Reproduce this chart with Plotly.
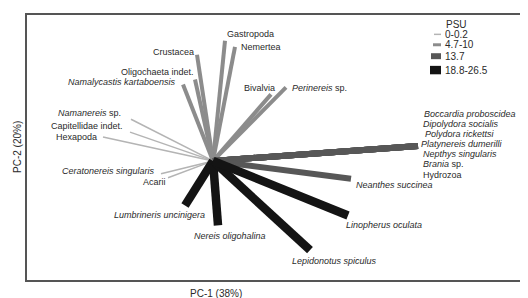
import plotly.graph_objects as go

# ---------------- data ----------------
species = [
    "Namanereis sp.", "Capitellidae indet.", "Hexapoda", "Ceratonereis singularis", "Acarii",
    "Gastropoda", "Nemertea", "Crustacea", "Oligochaeta indet.", "Namalycastis kartaboensis",
    "Bivalvia", "Perinereis sp.",
    "Boccardia proboscidea", "Dipolydora socialis", "Polydora rickettsi", "Platynereis dumerilli",
    "Nepthys singularis", "Brania sp.", "Hydrozoa", "Neanthes succinea",
    "Lumbrineris uncinigera", "Nereis oligohalina", "Lepidonotus spiculus", "Linopherus oculata",
]
labels = [
    "<i>Namanereis</i> sp.", "Capitellidae indet.", "Hexapoda", "<i>Ceratonereis singularis</i>", "Acarii",
    "Gastropoda", "Nemertea", "Crustacea", "Oligochaeta indet.", "<i>Namalycastis kartaboensis</i>",
    "Bivalvia", "<i>Perinereis</i> sp.",
    "<i>Boccardia proboscidea</i>", "<i>Dipolydora socialis</i>", "<i>Polydora rickettsi</i>",
    "<i>Platynereis dumerilli</i>", "<i>Nepthys singularis</i>", "<i>Brania</i> sp.", "Hydrozoa",
    "<i>Neanthes succinea</i>",
    "<i>Lumbrineris uncinigera</i>", "<i>Nereis oligohalina</i>", "<i>Lepidonotus spiculus</i>",
    "<i>Linopherus oculata</i>",
]
pc1 = [
    -0.41, -0.415, -0.55, -0.26, -0.225,
    0.06, 0.11, -0.08, -0.09, -0.15,
    0.29, 0.365,
    1.025, 1.025, 1.025, 1.025, 1.025, 1.025, 1.025, 0.69,
    -0.14, 0.025, 0.485, 0.675,
]
pc2 = [
    0.21, 0.145, 0.12, -0.065, -0.085,
    0.605, 0.575, 0.535, 0.41, 0.385,
    0.335, 0.37,
    0.075, 0.075, 0.075, 0.075, 0.075, 0.075, 0.075, -0.09,
    -0.225, -0.325, -0.45, -0.275,
]
psu = [
    "0-0.2", "0-0.2", "0-0.2", "0-0.2", "0-0.2",
    "4.7-10", "4.7-10", "4.7-10", "4.7-10", "4.7-10", "4.7-10", "4.7-10",
    "13.7", "13.7", "13.7", "13.7", "13.7", "13.7", "13.7", "13.7",
    "18.8-26.5", "18.8-26.5", "18.8-26.5", "18.8-26.5",
]
psu_groups = ["0-0.2", "4.7-10", "13.7", "18.8-26.5"]

# ---------------- styles ----------------
group_color = {"0-0.2": "#b4b4b4", "4.7-10": "#8c8c8c", "13.7": "#575757", "18.8-26.5": "#141414"}
group_width = {"0-0.2": 1.5, "4.7-10": 4, "13.7": 6, "18.8-26.5": 8.5}
# label placement relative to vector tip: (xanchor, dx px, dy px down)
label_pos = {
    "Namanereis sp.": ("right", -9, -6.5),
    "Capitellidae indet.": ("right", -6, -6),
    "Hexapoda": ("right", -5, -0.5),
    "Ceratonereis singularis": ("right", -5, -3),
    "Acarii": ("right", -1, 4),
    "Gastropoda": ("left", 1, -7),
    "Nemertea": ("left", 5, 0),
    "Crustacea": ("right", -2, -3),
    "Oligochaeta indet.": ("right", 0, -8),
    "Namalycastis kartaboensis": ("right", -6, -2),
    "Bivalvia": ("right", 5, -6),
    "Perinereis sp.": ("left", 5, 1),
    "Boccardia proboscidea": ("left", 5, -32),
    "Dipolydora socialis": ("left", 4, -22),
    "Polydora rickettsi": ("left", 6, -12),
    "Platynereis dumerilli": ("left", 2, -2),
    "Nepthys singularis": ("left", 4, 8),
    "Brania sp.": ("left", 4, 18),
    "Hydrozoa": ("left", 4, 29),
    "Neanthes succinea": ("left", 4, 6),
    "Lumbrineris uncinigera": ("right", 21, 9),
    "Nereis oligohalina": ("left", -25, 11),
    "Lepidonotus spiculus": ("left", -19, 11),
    "Linopherus oculata": ("left", -3, 10),
}
FONT = "Liberation Sans, Arial, Helvetica, sans-serif"
TXT = "#2a2a2a"
FS = 9

fig = go.Figure()
for g in psu_groups:
    for i, s in enumerate(species):
        if psu[i] != g:
            continue
        fig.add_trace(go.Scatter(
            x=[0, pc1[i]], y=[0, pc2[i]], mode="lines",
            line=dict(color=group_color[g], width=group_width[g]),
            showlegend=False, hoverinfo="skip"))

for i, s in enumerate(species):
    xa, dx, dy = label_pos[s]
    fig.add_annotation(x=pc1[i], y=pc2[i], text=labels[i], showarrow=False,
                       xanchor=xa, yanchor="middle", xshift=dx, yshift=-dy,
                       borderpad=0,
                       font=dict(family=FONT, size=FS, color=TXT))

W, H = 528, 298
L, R, T, B = 19, 521, 5, 272


def px(x):
    return (x - L) / (R - L)


def py(y):
    return (B - y) / (B - T)

# manual legend
fig.add_annotation(xref="paper", yref="paper", x=px(436), y=py(14.5), text="PSU",
                   showarrow=False, xanchor="left", yanchor="middle",
                   font=dict(family=FONT, size=10, color=TXT))
leg_y = [24.5, 35, 46.5, 60.5]
leg_h = {"0-0.2": 1.5, "4.7-10": 3, "13.7": 6, "18.8-26.5": 8.5}
leg_x0 = {"0-0.2": 426, "4.7-10": 425, "13.7": 423, "18.8-26.5": 422}
for g, yy in zip(psu_groups, leg_y):
    fig.add_shape(type="rect", xref="paper", yref="paper",
                  x0=px(leg_x0[g]), x1=px(433), y0=py(yy - leg_h[g] / 2), y1=py(yy + leg_h[g] / 2),
                  fillcolor=group_color[g], line=dict(width=0))
    fig.add_annotation(xref="paper", yref="paper", x=px(435), y=py(yy), text=g,
                       showarrow=False, xanchor="left", yanchor="middle",
                       font=dict(family=FONT, size=10, color=TXT))

# axis titles
fig.add_annotation(xref="paper", yref="paper", x=px(208), y=py(286), text="PC-1 (38%)",
                   showarrow=False, xanchor="center", yanchor="middle",
                   font=dict(family=FONT, size=10, color=TXT))
fig.add_annotation(xref="paper", yref="paper", x=px(9), y=py(138), text="PC-2 (20%)",
                   showarrow=False, textangle=-90, xanchor="center", yanchor="middle",
                   font=dict(family=FONT, size=10, color=TXT))

ax = dict(showgrid=False, zeroline=False, showticklabels=False, ticks="",
          showline=True, mirror=True, linecolor="#555555", linewidth=2, fixedrange=True)
fig.update_xaxes(range=[-(205 - L) / 200, (R - 205) / 200], **ax)
fig.update_yaxes(range=[-(B - 152) / 200, (152 - T) / 200], **ax)
fig.update_layout(width=W, height=H, margin=dict(l=L, r=W - R, t=T, b=H - B),
                  paper_bgcolor="white", plot_bgcolor="white", showlegend=False)

fig.write_html("out.html")
